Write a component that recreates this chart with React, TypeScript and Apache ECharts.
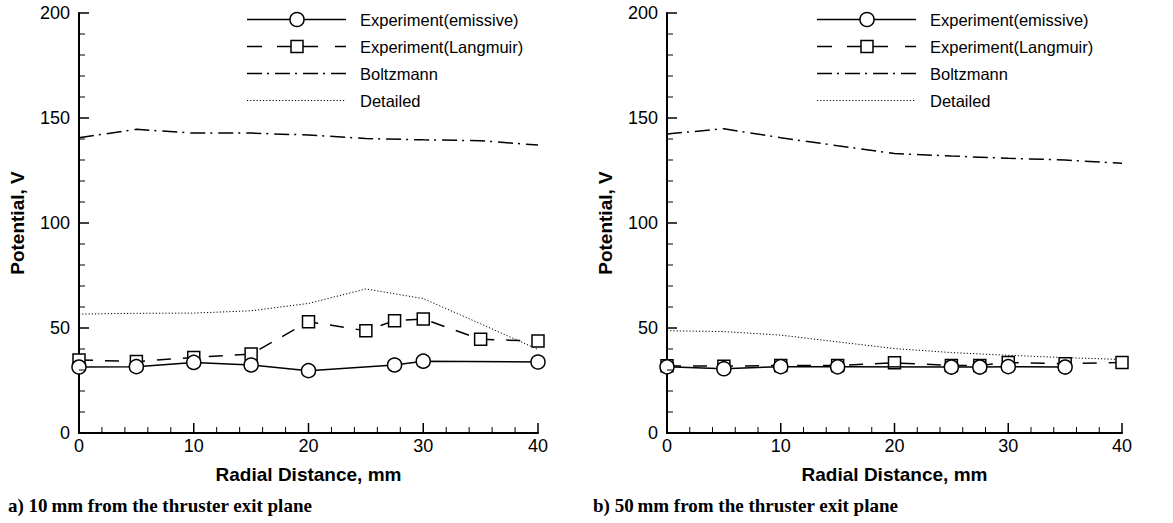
import React, { useEffect, useRef } from "react";
import * as echarts from "echarts";

const SERIES_NAMES = ["Experiment(emissive)", "Experiment(Langmuir)", "Boltzmann", "Detailed"];

// Plot a) 10 mm from exit plane
const aEmissiveX = [0, 5, 10, 15, 20, 27.5, 30, 40];
const aEmissiveY = [31.4, 31.6, 33.6, 32.4, 29.7, 32.4, 34.2, 33.8];
const aLangmuirX = [0, 5, 10, 15, 20, 25, 27.5, 30, 35, 40];
const aLangmuirY = [34.8, 34, 36, 37.6, 53, 48.7, 53.5, 54.3, 44.6, 43.8];
const aBoltzX = [0, 5, 10, 15, 20, 25, 30, 35, 40];
const aBoltzY = [140.6, 144.6, 142.8, 142.8, 141.9, 140.2, 139.6, 139.2, 137.1];
const aDetailX = [0, 5, 10, 15, 20, 25, 30, 35, 40];
const aDetailY = [56.6, 57, 57.1, 58.2, 61.7, 68.6, 64, 52, 39.8];

// Plot b) 50 mm from exit plane
const bEmissiveX = [0, 5, 10, 15, 25, 27.5, 30, 35];
const bEmissiveY = [31.5, 30.6, 31.6, 31.5, 31.4, 31.4, 31.6, 31.4];
const bLangmuirX = [0, 5, 10, 15, 20, 25, 27.5, 30, 35, 40];
const bLangmuirY = [32, 31.8, 32.2, 32.2, 33.4, 32.2, 32.2, 33.6, 33, 33.6];
const bBoltzX = [0, 5, 10, 15, 20, 25, 30, 35, 40];
const bBoltzY = [142.4, 144.9, 140.6, 136.8, 133.1, 131.9, 130.8, 130, 128.4];
const bDetailX = [0, 5, 10, 15, 20, 25, 30, 35, 40];
const bDetailY = [48.7, 48.3, 46.6, 43.4, 40.2, 38.3, 37, 35.9, 35];

const X_TICKS = [0, 10, 20, 30, 40];
const Y_TICKS = [0, 50, 100, 150, 200];
const X_MINOR_STEP = 2;
const Y_MINOR_STEP = 10;

const CAPTIONS = ["a) 10\u2009mm from the thruster exit plane", "b) 50\u2009mm from the thruster exit plane"];

const pairs = (xs: number[], ys: number[]) => xs.map((x, i) => [x, ys[i]]);

const FONT = "'Liberation Sans', Arial, sans-serif";
const DASH_LANGMUIR = [14, 12];
const DASH_BOLTZ = [15, 5, 2, 6];
const DASH_DETAIL = [1.2, 2];
const MAJOR_LEN = 10;
const MINOR_LEN = 6;

function buildSeries(idx: number, eX: number[], eY: number[], lX: number[], lY: number[], bX: number[], bY: number[], dX: number[], dY: number[]) {
  return [
    {
      name: SERIES_NAMES[0],
      type: "line",
      xAxisIndex: idx,
      yAxisIndex: idx,
      data: pairs(eX, eY),
      symbol: "circle",
      symbolSize: 14,
      z: 5,
      lineStyle: { color: "#000", width: 1.5, type: "solid" },
      itemStyle: { color: "#fff", borderColor: "#000", borderWidth: 1.5 },
    },
    {
      name: SERIES_NAMES[1],
      type: "line",
      xAxisIndex: idx,
      yAxisIndex: idx,
      data: pairs(lX, lY),
      symbol: "rect",
      symbolSize: 12,
      z: 4,
      lineStyle: { color: "#000", width: 1.5, type: DASH_LANGMUIR },
      itemStyle: { color: "#fff", borderColor: "#000", borderWidth: 1.5 },
    },
    {
      name: SERIES_NAMES[2],
      type: "line",
      xAxisIndex: idx,
      yAxisIndex: idx,
      data: pairs(bX, bY),
      symbol: "none",
      lineStyle: { color: "#000", width: 1.5, type: DASH_BOLTZ },
    },
    {
      name: SERIES_NAMES[3],
      type: "line",
      xAxisIndex: idx,
      yAxisIndex: idx,
      data: pairs(dX, dY),
      symbol: "none",
      lineStyle: { color: "#000", width: 1, type: DASH_DETAIL },
    },
  ];
}

function stepValues(min: number, max: number, step: number) {
  const out: number[] = [];
  for (let v = min + step; v <= max + 1e-9; v += step) out.push(v);
  return out;
}

// Inward tick marks drawn through the grid's own coordinate system.
function tickSeries(g: number) {
  const xMin = X_TICKS[0];
  const xMax = X_TICKS[X_TICKS.length - 1];
  const yMin = Y_TICKS[0];
  const yMax = Y_TICKS[Y_TICKS.length - 1];
  return [
    {
      type: "custom",
      xAxisIndex: g,
      yAxisIndex: g,
      silent: true,
      clip: false,
      z: 20,
      data: stepValues(xMin, xMax, X_MINOR_STEP).map((v) => [v, yMin]),
      renderItem: (params: any, api: any) => {
        const v = api.value(0);
        const p = api.coord([v, api.value(1)]);
        const major = X_TICKS.includes(v);
        return {
          type: "line",
          shape: { x1: p[0], y1: p[1], x2: p[0], y2: p[1] - (major ? MAJOR_LEN : MINOR_LEN) },
          style: { stroke: "#000", lineWidth: major ? 1.5 : 1, fill: null },
        };
      },
    },
    {
      type: "custom",
      xAxisIndex: g,
      yAxisIndex: g,
      silent: true,
      clip: false,
      z: 20,
      data: stepValues(yMin, yMax, Y_MINOR_STEP).map((v) => [xMin, v]),
      renderItem: (params: any, api: any) => {
        const v = api.value(1);
        const p = api.coord([api.value(0), v]);
        const major = Y_TICKS.includes(v);
        return {
          type: "line",
          shape: { x1: p[0], y1: p[1], x2: p[0] + (major ? MAJOR_LEN : MINOR_LEN), y2: p[1] },
          style: { stroke: "#000", lineWidth: major ? 1.5 : 1, fill: null },
        };
      },
    },
  ];
}

function xAxis(gridIndex: number) {
  return {
    type: "value",
    gridIndex,
    min: X_TICKS[0],
    max: X_TICKS[X_TICKS.length - 1],
    interval: X_TICKS[1] - X_TICKS[0],
    name: "Radial Distance, mm",
    nameLocation: "middle",
    nameGap: 32,
    nameTextStyle: { fontFamily: FONT, fontWeight: "bold", fontSize: 19, color: "#000" },
    axisLine: { show: true, onZero: false, lineStyle: { color: "#000", width: 2 } },
    axisTick: { show: false },
    splitLine: { show: false },
    axisLabel: { fontFamily: FONT, fontSize: 18, color: "#000", margin: 4 },
  };
}

function yAxis(gridIndex: number) {
  return {
    type: "value",
    gridIndex,
    min: Y_TICKS[0],
    max: Y_TICKS[Y_TICKS.length - 1],
    interval: Y_TICKS[1] - Y_TICKS[0],
    name: "Potential, V",
    nameLocation: "middle",
    nameGap: 52,
    nameRotate: 90,
    nameTextStyle: { fontFamily: FONT, fontWeight: "bold", fontSize: 19, color: "#000" },
    axisLine: { show: true, onZero: false, lineStyle: { color: "#000", width: 2 } },
    axisTick: { show: false },
    splitLine: { show: false },
    axisLabel: { fontFamily: FONT, fontSize: 18, color: "#000", margin: 9 },
  };
}

const LEGEND_ROWS = [19.5, 46.5, 73.5, 100.5];

function legendGraphic(dx: number) {
  const x0 = 247 + dx;
  const x1 = 346 + dx;
  const xm = 297 + dx;
  const els: any[] = [];
  const line = (a: number, b: number, y: number, width: number, dash?: number[]) => ({
    type: "line",
    shape: { x1: a, y1: y, x2: b, y2: y },
    style: { stroke: "#000", lineWidth: width, lineDash: dash },
    silent: true,
  });
  const [r1, r2, r3, r4] = LEGEND_ROWS;
  els.push(line(x0, x1, r1, 1.5));
  els.push({ type: "circle", shape: { cx: xm, cy: r1, r: 7 }, style: { fill: "#fff", stroke: "#000", lineWidth: 1.5 }, z: 10 });
  els.push(line(x0, x0 + 15, r2, 1.5));
  els.push(line(x0 + 30, x0 + 71, r2, 1.5));
  els.push(line(x1 - 11, x1, r2, 1.5));
  els.push({ type: "rect", shape: { x: xm - 6, y: r2 - 6, width: 12, height: 12 }, style: { fill: "#fff", stroke: "#000", lineWidth: 1.5 }, z: 10 });
  els.push(line(x0, x1, r3, 1.5, DASH_BOLTZ));
  els.push(line(x0, x1, r4, 1, DASH_DETAIL));
  SERIES_NAMES.forEach((name, i) => {
    els.push({
      type: "text",
      x: 360 + dx,
      y: LEGEND_ROWS[i],
      style: { text: name, font: `16.5px ${FONT}`, fill: "#000", verticalAlign: "middle", align: "left" },
      silent: true,
    });
  });
  return els;
}

export default function App() {
  const ref = useRef<HTMLDivElement>(null);
  useEffect(() => {
    if (!ref.current) return;
    const chart = echarts.init(ref.current, undefined, { renderer: "svg" });
    chart.setOption({
      animation: false,
      backgroundColor: "#fff",
      grid: [
        { left: 79, right: 635, top: 13, bottom: 90 },
        { left: 667, right: 51, top: 13, bottom: 90 },
      ],
      xAxis: [xAxis(0), xAxis(1)],
      yAxis: [yAxis(0), yAxis(1)],
      series: [
        ...buildSeries(0, aEmissiveX, aEmissiveY, aLangmuirX, aLangmuirY, aBoltzX, aBoltzY, aDetailX, aDetailY),
        ...buildSeries(1, bEmissiveX, bEmissiveY, bLangmuirX, bLangmuirY, bBoltzX, bBoltzY, bDetailX, bDetailY),
        ...tickSeries(0),
        ...tickSeries(1),
      ],
      graphic: [
        ...legendGraphic(0),
        ...legendGraphic(570),
        {
          type: "text",
          left: 8,
          top: 496,
          style: { text: CAPTIONS[0], font: "bold 19px 'Liberation Serif', 'Times New Roman', serif", fill: "#000" },
        },
        {
          type: "text",
          left: 593,
          top: 496,
          style: { text: CAPTIONS[1], font: "bold 19px 'Liberation Serif', 'Times New Roman', serif", fill: "#000" },
        },
      ],
    });
    return () => chart.dispose();
  }, []);
  return <div ref={ref} style={{ position: "absolute", left: 0, top: 0, width: 1173, height: 523 }} />;
}
